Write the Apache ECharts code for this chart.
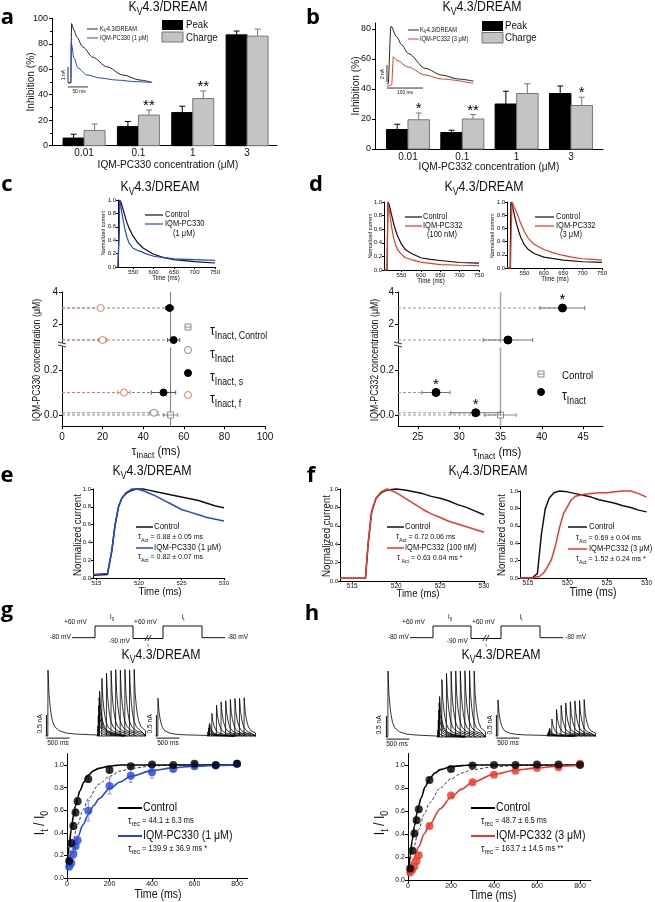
<!DOCTYPE html>
<html><head><meta charset="utf-8">
<script src="https://cdn.jsdelivr.net/npm/echarts@6/dist/echarts.min.js"></script>
<style>html,body{margin:0;padding:0;background:#fff}#c{width:655px;height:902px}</style>
</head><body><div id="c"></div>
<script>
// ================= DATA =================
const concLabels = ['0.01','0.1','1','3'];
// panel a (IQM-PC330)
const aPeak = [6, 15, 26, 87];
const aPeakErr = [3, 4, 5, 3];
const aCharge = [12, 24, 37, 86];
const aChargeErr = [5, 4, 6, 5.5];
const aStars = ['', '**', '**', ''];
// panel b (IQM-PC332)
const bPeak = [13, 11, 30, 37];
const bPeakErr = [3.5, 1.5, 8.5, 5];
const bCharge = [19.5, 20, 37, 29];
const bChargeErr = [4.5, 3, 6.5, 5.5];
const bStars = ['*', '**', '', '*'];
// insets a/b (ms, nA)
const aInsCtrl = [[0,0],[7,0],[9,3.7],[15,3.3],[22,2.86],[37,2.24],[62,1.6],[97,1.0],[137,0.49],[180,0.17],[210,0.02]];
const aInsDrug = [[0,0],[7,0],[8,2.5],[15,1.55],[25,0.92],[47,0.49],[80,0.3],[122,0.17],[170,0.07],[210,0.02]];
const bInsCtrl = [[0,0],[3,0],[11,6.8],[27,5.56],[41,4.6],[59,3.6],[106,1.85],[152,1.06],[198,0.59],[240,0.35]];
const bInsDrug = [[0,-0.3],[13,-0.1],[17.5,3.2],[27,2.8],[59,2.0],[106,1.06],[152,0.59],[240,0.08]];
// panel c inset (ms, normalized)
const cInsCtrl = [[513,0],[515,0.01],[516,0.6],[517,1.0],[520,0.97],[525,0.87],[530,0.76],[535,0.66],[540,0.58],[550,0.46],[560,0.37],[575,0.28],[600,0.19],[625,0.14],[650,0.11],[700,0.08],[750,0.06]];
const cInsDrug = [[513,0],[515,0.01],[516,0.6],[517,1.0],[520,0.9],[525,0.72],[530,0.56],[535,0.44],[540,0.36],[550,0.28],[560,0.25],[570,0.23],[580,0.2],[600,0.16],[625,0.14],[650,0.12],[700,0.11],[750,0.10]];
// panel c scatter: [tau ms, conc µM, err, star]
const cCtrl = [[53.5, 0, 3.5]];
const cTauInact = [[45.3, 0.01, 2]];
const cTauS = [[50, 0.1, 6], [55, 1, 3], [53, 3, 2]];
const cTauF = [[30.5, 0.1, 3], [20, 1, 2], [19, 3, 1.5]];
// panel d insets
const dInsCtrlL = [[505,0],[513,0],[514,0.5],[515,1.0],[518,0.97],[525,0.8],[530,0.68],[535,0.58],[540,0.5],[550,0.38],[560,0.3],[577,0.24],[600,0.18],[625,0.155],[650,0.14],[700,0.11],[750,0.10]];
const dInsDrugL = [[505,0],[513,0],[514,0.5],[515,1.0],[518,0.9],[525,0.62],[530,0.47],[535,0.37],[540,0.3],[550,0.23],[560,0.18],[577,0.15],[600,0.115],[650,0.08],[700,0.07],[750,0.065]];
const dInsCtrlR = [[505,0],[513,0],[514,0.5],[515,1.0],[518,0.96],[525,0.78],[530,0.66],[535,0.56],[540,0.47],[550,0.35],[560,0.28],[575,0.22],[600,0.165],[650,0.12],[700,0.095],[750,0.085]];
const dInsDrugR = [[505,0],[514,0],[516,0.6],[518,1.0],[522,0.97],[530,0.84],[540,0.68],[550,0.55],[560,0.45],[575,0.36],[600,0.28],[625,0.23],[650,0.19],[675,0.16],[700,0.14],[725,0.13],[750,0.12]];
// panel d scatter
const dCtrl = [[35, 0, 1.9]];
const dTau = [[32, 0.01, 3, '*'], [27.2, 0.1, 1.7, '*'], [35.9, 1, 3, ''], [42.5, 3, 2.7, '*']];
// panel e
const eCtrl = [[514.6,0.03],[516.3,0.04],[516.8,0.3],[517.2,0.6],[517.6,0.8],[518,0.9],[518.5,0.95],[519,0.98],[519.7,1.0],[520.5,1.0],[521,0.99],[522,0.97],[523,0.95],[524,0.93],[525,0.91],[526,0.89],[527,0.87],[528,0.84],[529,0.81],[530,0.79]];
const eDrug = [[514.6,0.04],[516.3,0.05],[516.8,0.3],[517.2,0.6],[517.6,0.8],[518,0.9],[518.5,0.96],[519.2,1.0],[519.8,1.0],[520.5,0.98],[521,0.96],[522,0.92],[523,0.87],[524,0.82],[525,0.77],[526,0.74],[527,0.71],[528,0.68],[529,0.66],[530,0.64]];
// panel f
const fCtrlL = [[513.6,0.03],[516.5,0.03],[516.8,0.4],[517.2,0.75],[517.7,0.9],[518.3,0.96],[519,0.99],[520,1.0],[521,0.99],[522,0.97],[523,0.95],[524,0.92],[525,0.9],[526,0.87],[527,0.83],[528,0.8],[529,0.76],[530,0.72]];
const fDrugL = [[513.6,0.03],[516.5,0.03],[516.8,0.4],[517.2,0.75],[517.7,0.9],[518.3,0.97],[519,1.0],[520,0.96],[521,0.9],[522,0.84],[523,0.78],[524,0.73],[525,0.69],[526,0.65],[527,0.62],[528,0.59],[529,0.56],[530,0.53]];
const fCtrlR = [[514,0],[515.5,0],[516.2,0.05],[516.7,0.5],[517.2,0.8],[517.7,0.92],[518.3,0.98],[519,1.0],[520,0.99],[521,0.97],[522,0.95],[523,0.93],[524,0.9],[525,0.88],[526,0.86],[527,0.83],[528,0.81],[529,0.78],[530,0.76]];
const fDrugR = [[514,0],[515.5,0],[516.5,0.02],[517,0.06],[517.5,0.13],[518,0.22],[518.5,0.38],[519,0.58],[519.5,0.74],[520,0.82],[520.5,0.9],[521,0.94],[522,0.96],[523,0.97],[524,0.98],[525,0.98],[526,0.99],[527,1.0],[528,1.0],[529,0.97],[530,0.93]];
// panels g/h recovery
const recTimes = [10,20,30,40,50,100,200,300,400,500,600,700,800];
const gCtrl = [0.15,0.31,0.46,0.58,0.68,0.876,0.955,0.99,1.005,1.0,1.01,1.0,1.01];
const gCtrlErr = [0.02,0.03,0.03,0.03,0.03,0.03,0.02,0.01,0.01,0.01,0.01,0.01,0.01];
const gDrug = [0.10,0.13,0.21,0.28,0.335,0.595,0.815,0.905,0.935,0.965,0.99,0.995,1.01];
const gDrugErr = [0.02,0.03,0.04,0.05,0.04,0.09,0.07,0.06,0.05,0.02,0.02,0.02,0.02];
const hCtrl = [0.10,0.255,0.405,0.52,0.615,0.87,0.965,0.995,1.0,1.0,1.005,1.005,1.0];
const hCtrlErr = [0.02,0.02,0.02,0.02,0.02,0.02,0.02,0.01,0.01,0.01,0.01,0.01,0.01];
const hDrug = [0.065,0.09,0.12,0.165,0.215,0.47,0.735,0.85,0.915,0.95,0.975,0.98,1.01];
const hDrugErr = [0.02,0.02,0.02,0.02,0.02,0.02,0.02,0.02,0.01,0.01,0.01,0.01,0.01];
const gCtrlFit = [[0,0.10],[10,0.28],[20,0.43],[30,0.55],[40,0.64],[50,0.71],[60,0.77],[80,0.85],[100,0.91],[125,0.95],[150,0.97],[200,0.99],[250,1.0],[800,1.0]];
const gDrugFit = [[0,0.08],[25,0.23],[50,0.36],[75,0.47],[100,0.56],[125,0.64],[150,0.70],[200,0.79],[250,0.85],[300,0.90],[400,0.95],[500,0.975],[600,0.99],[700,0.995],[800,1.0]];
const gMidFit = [[0,0.09],[25,0.3],[50,0.47],[75,0.6],[100,0.7],[150,0.83],[200,0.9],[250,0.945],[300,0.97],[400,0.99],[500,1.0],[800,1.0]];
const hCtrlFit = [[0,0.05],[10,0.21],[20,0.35],[30,0.47],[40,0.57],[50,0.65],[60,0.71],[80,0.81],[100,0.88],[125,0.93],[150,0.96],[200,0.985],[250,0.995],[300,1.0],[800,1.0]];
const hDrugFit = [[0,0.04],[25,0.18],[50,0.29],[75,0.40],[100,0.48],[150,0.62],[200,0.72],[250,0.79],[300,0.85],[400,0.92],[500,0.955],[600,0.975],[700,0.99],[800,0.995]];
const hMidFit = [[0,0.05],[25,0.27],[50,0.44],[75,0.57],[100,0.67],[150,0.8],[200,0.88],[250,0.93],[300,0.96],[400,0.985],[500,0.995],[800,1.0]];
// current traces (ms after pulse onset, normalized)
const traceShape = [[0,0],[4,1],[25,0.65],[50,0.45],[75,0.32],[100,0.23],[150,0.14],[250,0.08],[400,0.045],[600,0.03],[900,0.02],[1070,0.015]];
const gI0 = [1.57, 0.9], hI0 = [1.57, 0.86];
// voltage protocol
const protoT = [0,115,115,305,305,455,455,650,650,765];
const protoV = [-80,-80,60,60,-90,-90,60,60,-80,-80];

// ================= SETUP =================
const FONT = '"Liberation Sans", Arial, Helvetica, sans-serif';
const BLUE = '#2446dc', RED = '#e8392a', LRED = '#ee7565', GRAY = '#8a8a8a';
const SX = 0.88;
const chart = echarts.init(document.getElementById('c'), null, {renderer:'canvas', width:655, height:902});
const grids = [], xAxes = [], yAxes = [], series = [], G = [];

function mergeDeep(a, b) {
  const o = Object.assign({}, a);
  for (const k in b) {
    const v = b[k];
    if (v && typeof v === 'object' && !Array.isArray(v) && typeof v !== 'function' && a[k] && typeof a[k] === 'object' && !Array.isArray(a[k])) o[k] = mergeDeep(a[k], v);
    else o[k] = v;
  }
  return o;
}
function ax(o) {
  return mergeDeep({type:'value', splitLine:{show:false},
    axisLine:{show:true, onZero:false, lineStyle:{color:'#000', width:1}},
    axisTick:{show:true, inside:false, length:3, lineStyle:{color:'#000', width:1}},
    axisLabel:{show:true, color:'#111', fontSize:10, fontFamily:FONT, margin:4}}, o);
}
function hid(min, max) { return {type:'value', show:false, min, max, splitLine:{show:false}, axisLine:{onZero:false}}; }
let GI = 0;
function addGrid(l, t, w, h, xa, ya) {
  grids.push({left:l, top:t, width:w, height:h});
  xAxes.push(Object.assign({gridIndex:GI}, xa));
  yAxes.push(Object.assign({gridIndex:GI}, ya));
  return GI++;
}
function line(gi, data, color, o) {
  o = o || {};
  const s = {type:'line', xAxisIndex:gi, yAxisIndex:gi, data, showSymbol:false, symbol:'none', silent:true, z:o.z||2,
    clip:false, lineStyle:{color, width:o.w||1, type:o.dash?[3,2]:'solid'}};
  if (o.smooth) { s.smooth = o.smooth; s.smoothMonotone = 'x'; }
  return s;
}
function T(x, y, text, size, o) {
  o = o || {};
  const el = {type:'text', x, y, z:100, rotation:o.rot||0, scaleX:(o.sx==null?SX:o.sx), silent:true,
    style:{text, fontSize:size, fontFamily:o.family||FONT, fontWeight:o.bold?'bold':'normal', fill:o.color||'#111',
      textAlign:o.align||'left', textVerticalAlign:o.va||'middle'}};
  if (o.rich) el.style.rich = o.rich;
  return el;
}
function R(parts, size, color) {
  color = color || '#111';
  let s = ''; const rich = {};
  parts.forEach((p, i) => {
    const k = 'p' + i; const sub = p[1] === 's'; const fs = p[2] || (sub ? Math.round(size*0.7) : size);
    rich[k] = sub ? {fontSize:fs, fontFamily:FONT, fill:color, color:color, lineHeight:fs, verticalAlign:'bottom'}
                  : {fontSize:fs, fontFamily:FONT, fill:color, color:color, lineHeight:Math.round(size*1.45), verticalAlign:'middle'};
    s += '{' + k + '|' + p[0] + '}';
  });
  return {text:s, rich};
}
function RT(x, y, parts, size, o) { const r = R(parts, size, o && o.color); return T(x, y, r.text, size, Object.assign({}, o||{}, {rich:r.rich})); }
function L(x1, y1, x2, y2, color, w, dash) {
  return {type:'line', z:100, silent:true, shape:{x1, y1, x2, y2}, style:{stroke:color, lineWidth:w||1, lineDash:dash||null}};
}
const kvTitle = [['K','n'],['V','s'],['4.3/DREAM','n']];

function barSeries(gi, vals, errs, stars, side, st) {
  return {type:'custom', xAxisIndex:gi, yAxisIndex:gi, z:2, silent:true,
    data: vals.map((v, i) => [i, v, errs[i]]),
    renderItem(params, api) {
      const i = api.value(0), v = api.value(1), e = api.value(2);
      const b0 = api.coord([i, 0]), b1 = api.coord([i, v]), b2 = api.coord([i, v + e]);
      const w = st.w; const x0 = side < 0 ? b0[0] - w : b0[0]; const cx = x0 + w/2;
      const ch = [
        {type:'rect', shape:{x:x0, y:b1[1], width:w, height:b0[1]-b1[1]}, style:{fill:st.fill, stroke:st.stroke, lineWidth:1}},
        {type:'line', shape:{x1:cx, y1:b1[1], x2:cx, y2:b2[1]}, style:{stroke:st.err, lineWidth:1}},
        {type:'line', shape:{x1:cx-3, y1:b2[1], x2:cx+3, y2:b2[1]}, style:{stroke:st.err, lineWidth:1}}];
      const s = stars && stars[params.dataIndex];
      if (s) ch.push({type:'text', style:{x:cx, y:b2[1]-4, text:s, fontSize:15, fontFamily:FONT, fill:'#000', textAlign:'center', textVerticalAlign:'middle'}});
      return {type:'group', children:ch};
    }};
}
function symbolEl(st, x, y) {
  if (st.sym === 'square') return {type:'group', children:[
    {type:'rect', shape:{x:x-3, y:y-3, width:6, height:6}, style:{fill:'#fff', stroke:st.color, lineWidth:1}},
    {type:'line', shape:{x1:x-3, y1:y, x2:x+3, y2:y}, style:{stroke:st.color, lineWidth:1}}]};
  return {type:'circle', shape:{cx:x, cy:y, r:st.r||3.5}, style:{fill:st.fill, stroke:st.color, lineWidth:1}};
}
function hPts(gi, rows, st) {
  return {type:'custom', xAxisIndex:gi, yAxisIndex:gi, z:st.z||3, silent:true,
    data: rows.map(d => [d[0], d[1], d[2]]),
    renderItem(params, api) {
      const x = api.value(0), y = api.value(1), e = api.value(2);
      const p = api.coord([x, y]), pl = api.coord([x-e, y]), pr = api.coord([x+e, y]), p0 = api.coord([st.from, y]);
      const ch = [];
      if (st.dash) ch.push({type:'line', shape:{x1:p0[0], y1:p[1], x2:p[0], y2:p[1]}, style:{stroke:st.dash, lineWidth:1, lineDash:[3,2]}});
      ch.push({type:'line', shape:{x1:pl[0], y1:p[1], x2:pr[0], y2:p[1]}, style:{stroke:st.err, lineWidth:1}});
      ch.push({type:'line', shape:{x1:pl[0], y1:p[1]-2, x2:pl[0], y2:p[1]+2}, style:{stroke:st.err, lineWidth:1}});
      ch.push({type:'line', shape:{x1:pr[0], y1:p[1]-2, x2:pr[0], y2:p[1]+2}, style:{stroke:st.err, lineWidth:1}});
      ch.push(symbolEl(st, p[0], p[1]));
      const s = rows[params.dataIndex][3];
      if (s) ch.push({type:'text', style:{x:p[0], y:p[1]-8, text:s, fontSize:15, fontFamily:FONT, fill:'#000', textAlign:'center', textVerticalAlign:'middle'}});
      return {type:'group', children:ch};
    }};
}
function vErr(gi, xs, ys, es, color) {
  return {type:'custom', xAxisIndex:gi, yAxisIndex:gi, z:3, silent:true,
    data: xs.map((x, i) => [x, ys[i], es[i]]),
    renderItem(params, api) {
      const x = api.value(0), y = api.value(1), e = api.value(2);
      const a = api.coord([x, y-e]), b = api.coord([x, y+e]);
      return {type:'group', children:[
        {type:'line', shape:{x1:a[0], y1:a[1], x2:b[0], y2:b[1]}, style:{stroke:color, lineWidth:1}},
        {type:'line', shape:{x1:a[0]-2, y1:a[1], x2:a[0]+2, y2:a[1]}, style:{stroke:color, lineWidth:1}},
        {type:'line', shape:{x1:b[0]-2, y1:b[1], x2:b[0]+2, y2:b[1]}, style:{stroke:color, lineWidth:1}}]};
    }};
}
// current-trace sweeps
const P1 = 50, P2OFF = 1120, P2DUR = 560, TEND = 2170;
function sweepSet(I0, ratios) {
  const out = [];
  const first = [[0,0],[P1,0]];
  traceShape.forEach(([t, v]) => { if (t <= P2OFF - P1) first.push([P1+t, I0*v]); });
  first.push([P2OFF, 0], [TEND, 0]);
  out.push(first);
  recTimes.forEach((tr, i) => {
    const s = P2OFF + tr; const seg = [[s, 0]];
    traceShape.forEach(([t, v]) => { if (t <= P2DUR && s + t <= TEND) seg.push([s+t, I0*ratios[i]*v]); });
    seg.push([Math.min(s + P2DUR, TEND), 0]);
    out.push(seg);
  });
  return out;
}
function traceSeries(gi, sweeps) {
  return {type:'custom', xAxisIndex:gi, yAxisIndex:gi, z:2, silent:true,
    data: sweeps.map((s, i) => [i, 0]),
    renderItem(params, api) {
      const s = sweeps[params.dataIndex];
      return {type:'polyline', shape:{points:s.map(pt => api.coord(pt))}, style:{stroke:'#000', fill:null, lineWidth:0.8}};
    }};
}
const smallAx = (min, max, vals, fmt, fs) => ax({min, max, axisTick:{length:2, customValues:vals}, axisLabel:{fontSize:fs||6, margin:2, customValues:vals, formatter:fmt}});
const f1 = v => (+v).toFixed(1);
const f0 = v => String(Math.round(v));
const y01 = [0,0.2,0.4,0.6,0.8,1.0];

// ================= PANEL a =================
const gA = addGrid(52, 18.3, 225, 127.4,
  ax({min:-0.59, max:3.55, axisTick:{show:false}, axisLabel:{customValues:[0,1,2,3], formatter:v => concLabels[Math.round(v)], fontSize:10, margin:3}}),
  ax({min:0, max:100, interval:20, minorTick:{show:true, splitNumber:2, length:2, lineStyle:{color:'#000'}}, axisLabel:{fontSize:9}}));
series.push(barSeries(gA, aPeak, aPeakErr, null, -1, {w:21, fill:'#000', stroke:'#000', err:'#000'}));
series.push(barSeries(gA, aCharge, aChargeErr, aStars, 1, {w:21, fill:'#c4c4c4', stroke:'#777', err:'#777'}));
const gAi = addGrid(68, 22, 84, 64, hid(0, 210), hid(-0.2, 3.8));
series.push(line(gAi, aInsCtrl, '#222', {smooth:0.3}));
series.push(line(gAi, aInsDrug, BLUE, {smooth:0.3}));
series.push(line(gAi, [[0,0],[0,1]], '#333'));
series.push(line(gAi, [[0,-0.26],[50,-0.26]], '#333'));

// ================= PANEL b =================
const gB = addGrid(375, 23, 228, 126,
  ax({min:-0.607, max:3.59, axisTick:{show:false}, axisLabel:{customValues:[0,1,2,3], formatter:v => concLabels[Math.round(v)], fontSize:10, margin:3}}),
  ax({min:0, max:84, axisTick:{customValues:[0,20,40,60,80]}, axisLabel:{customValues:[0,20,40,60,80], formatter:f0, fontSize:9}}));
series.push(barSeries(gB, bPeak, bPeakErr, null, -1, {w:21.5, fill:'#000', stroke:'#000', err:'#000'}));
series.push(barSeries(gB, bCharge, bChargeErr, bStars, 1, {w:21.5, fill:'#c4c4c4', stroke:'#777', err:'#777'}));
const gBi = addGrid(387, 22, 90, 68, hid(0, 250), hid(-0.7, 7.3));
series.push(line(gBi, bInsCtrl, '#222', {smooth:0.3}));
series.push(line(gBi, bInsDrug, RED, {smooth:0.3}));
series.push(line(gBi, [[0,0.24],[0,2.24]], '#333'));
series.push(line(gBi, [[0,-0.47],[100,-0.47]], '#333'));

// ================= PANEL c =================
const gCi = addGrid(118, 200, 97, 67, smallAx(513, 750, [550,600,650,700,750], f0), smallAx(0, 1, y01, f1));
series.push(line(gCi, cInsCtrl, '#111', {w:1.2}));
series.push(line(gCi, cInsDrug, BLUE, {w:1.2}));
const cUp = addGrid(62, 292, 203, 50.4, hid(0, 100),
  ax({min:0.85, max:4, axisTick:{customValues:[2,4]}, axisLabel:{customValues:[2,4], formatter:f0, fontSize:10}}));
const cLo = addGrid(62, 347.5, 203, 78.75,
  ax({min:0, max:100, interval:20, axisLabel:{fontSize:10, margin:6}}),
  ax({min:-0.05, max:0.3, axisTick:{customValues:[0,0.2]}, axisLabel:{customValues:[0,0.2], formatter:f1, fontSize:10}}));
[[cUp, 0.85, 4], [cLo, -0.05, 0.3]].forEach(([g, a, b]) => series.push(line(g, [[cCtrl[0][0], a], [cCtrl[0][0], b]], '#777', {z:1})));
function splitRows(rows) { return [rows.filter(r => r[1] >= 0.5), rows.filter(r => r[1] < 0.5)]; }
const stCtrl = {sym:'square', color:GRAY, err:GRAY, dash:GRAY, from:0};
const stTI = {sym:'circle', color:GRAY, fill:'#fff', err:GRAY, dash:GRAY, from:0};
const stS = {sym:'circle', color:'#000', fill:'#000', err:'#555', dash:GRAY, from:0};
const stF = {sym:'circle', color:LRED, fill:'#fff', err:LRED, dash:LRED, from:0, z:4};
[[cCtrl, stCtrl], [cTauInact, stTI], [cTauS, stS], [cTauF, stF]].forEach(([rows, st]) => {
  const [up, lo] = splitRows(rows);
  if (up.length) series.push(hPts(cUp, up, st));
  if (lo.length) series.push(hPts(cLo, lo, st));
});

// ================= PANEL d =================
const gDl = addGrid(384, 202, 95, 68, smallAx(505, 750, [550,600,650,700,750], f0), smallAx(0, 1, y01, f1));
series.push(line(gDl, dInsCtrlL, '#111', {w:1.2}));
series.push(line(gDl, dInsDrugL, RED, {w:1.2}));
const gDr = addGrid(507, 202, 95, 66, smallAx(505, 750, [550,600,650,700,750], f0), smallAx(0, 1, y01, f1));
series.push(line(gDr, dInsCtrlR, '#111', {w:1.2}));
series.push(line(gDr, dInsDrugR, RED, {w:1.2}));
const dUp = addGrid(398, 292, 205, 50.4, hid(22.6, 47.4),
  ax({min:0.85, max:4, axisTick:{customValues:[2,4]}, axisLabel:{customValues:[2,4], formatter:f0, fontSize:10}}));
const dLo = addGrid(398, 347.5, 205, 78.75,
  ax({min:22.6, max:47.4, axisTick:{customValues:[25,30,35,40,45]}, axisLabel:{customValues:[25,30,35,40,45], formatter:f0, fontSize:10, margin:6}}),
  ax({min:-0.05, max:0.3, axisTick:{customValues:[0,0.2]}, axisLabel:{customValues:[0,0.2], formatter:f1, fontSize:10}}));
[[dUp, 0.85, 4], [dLo, -0.05, 0.3]].forEach(([g, a, b]) => series.push(line(g, [[dCtrl[0][0], a], [dCtrl[0][0], b]], '#aaa', {z:1, w:1.5})));
const dstCtrl = {sym:'square', color:GRAY, err:GRAY, dash:'#999', from:22.6};
const dstT = {sym:'circle', color:'#000', fill:'#000', err:'#777', dash:'#999', from:22.6, r:4};
[[dCtrl, dstCtrl], [dTau, dstT]].forEach(([rows, st]) => {
  const [up, lo] = splitRows(rows);
  if (up.length) series.push(hPts(dUp, up, st));
  if (lo.length) series.push(hPts(dLo, lo, st));
});

// ================= PANEL e / f =================
const gE = addGrid(93, 489, 131, 89, smallAx(514.6, 530, [515,520,525,530], f0), smallAx(0, 1, y01, f1));
series.push(line(gE, eCtrl, '#111', {w:1.5}));
series.push(line(gE, eDrug, BLUE, {w:1.5}));
const gFl = addGrid(340, 489, 144, 92, smallAx(513.6, 530, [515,520,525,530], f0, 6.5), smallAx(0, 1, y01, f1, 6));
series.push(line(gFl, fCtrlL, '#111', {w:1.5}));
series.push(line(gFl, fDrugL, RED, {w:1.5}));
const gFr = addGrid(520, 491, 128, 87, smallAx(514, 530, [515,520,525,530], f0, 6.5), smallAx(0, 1, y01, f1, 6));
series.push(line(gFr, fCtrlR, '#111', {w:1.5}));
series.push(line(gFr, fDrugR, RED, {w:1.5}));

// ================= PANEL g / h =================
const proto = protoT.map((t, i) => [t, protoV[i]]);
const gP = addGrid(72, 626, 153, 12.5, hid(0, 765), hid(-90, 60));
series.push(line(gP, proto, '#111'));
const hP = addGrid(410, 626, 153, 12.5, hid(0, 765), hid(-90, 60));
series.push(line(hP, proto, '#111'));
const traceBoxes = [[45.5, 666.7, gI0[0], gCtrl], [155.5, 666.7, gI0[1], gDrug], [385.5, 667.7, hI0[0], hCtrl], [495.5, 666.7, hI0[1], hDrug]];
traceBoxes.forEach(([l, t, I0, ratios]) => {
  const gi = addGrid(l, t, 100, 71.4, hid(0, TEND), hid(-0.05, 1.65));
  series.push(traceSeries(gi, sweepSet(I0, ratios)));
  series.push(line(gi, [[20,0],[20,0.5]], '#111'));
  series.push(line(gi, [[20,-0.05],[520,-0.05]], '#111'));
});
const recAx = (fs) => ax({min:0, max:850, axisTick:{length:3, customValues:[0,200,400,600,800]}, axisLabel:{customValues:[0,200,400,600,800], formatter:f0, fontSize:fs, margin:3}});
const recAy = (fs) => ax({min:0, max:1.1, axisTick:{length:3, customValues:y01}, axisLabel:{customValues:y01, formatter:f1, fontSize:fs, margin:3}});
const gR = addGrid(67, 753.7, 180.6, 124.3, recAx(7), recAy(7));
const hR = addGrid(408, 753.5, 182.75, 126.5, recAx(7), recAy(7));
[[gR, gCtrl, gCtrlErr, gDrug, gDrugErr, gCtrlFit, gDrugFit, gMidFit, BLUE, '#7d95ea'],
 [hR, hCtrl, hCtrlErr, hDrug, hDrugErr, hCtrlFit, hDrugFit, hMidFit, RED, '#f08b80']].forEach(([gi, c, ce, d, de, cf, df, mf, col, ecol]) => {
  series.push(line(gi, mf, '#222', {dash:true, smooth:0.3, w:0.9}));
  series.push(line(gi, cf, '#000', {smooth:0.3, w:1.6}));
  series.push(line(gi, df, col, {smooth:0.3, w:1.6}));
  series.push(vErr(gi, recTimes, d, de, ecol));
  series.push(vErr(gi, recTimes, c, ce, '#666'));
  series.push({type:'scatter', xAxisIndex:gi, yAxisIndex:gi, z:4, silent:true, symbolSize:8, itemStyle:{color:col}, data:recTimes.map((t, i) => [t, d[i]])});
  series.push({type:'scatter', xAxisIndex:gi, yAxisIndex:gi, z:5, silent:true, symbolSize:8, itemStyle:{color:'#000'}, data:recTimes.map((t, i) => [t, c[i]])});
});

// ================= TEXT / ANNOTATION =================
const LF = '"Open Sans", "DejaVu Sans", sans-serif';
[['a',7.5,17.3],['b',313,17.3],['c',7,185],['d',316,185],['e',7,475.5],['f',311,475.5],['g',7,611],['h',312,614]].forEach(([t,x,y]) => G.push(T(x, y, t, 22, {bold:true, family:LF, align:'center', sx:1, color:'#000'})));
[[168,7],[482,7],[160,187],[484,187],[152,471],[488,471],[161,655],[501,655]].forEach(([x,y]) => G.push(RT(x, y, kvTitle, 14, {align:'center'})));
// a
G.push(T(168, 165, 'IQM-PC330 concentration (μM)', 11.5, {align:'center'}));
G.push(T(31, 82, 'Inhibition (%)', 11.5, {align:'center', rot:Math.PI/2}));
G.push({type:'rect', z:100, shape:{x:162, y:20, width:21, height:10}, style:{fill:'#000'}});
G.push({type:'rect', z:100, shape:{x:162, y:32, width:21, height:10}, style:{fill:'#c4c4c4', stroke:'#777'}});
G.push(T(186, 25, 'Peak', 11)); G.push(T(186, 37.5, 'Charge', 11));
G.push(L(87, 29, 98, 29, '#222')); G.push(RT(100, 29, kvTitle, 6.5));
G.push(L(87, 38, 98, 38, BLUE)); G.push(T(100, 38, 'IQM-PC330 (1 μM)', 6.5));
G.push(T(63, 75, '1 nA', 5.5, {align:'center', rot:Math.PI/2})); G.push(T(79, 91, '50 ms', 5.5, {align:'center'}));
// b
G.push(T(489, 167, 'IQM-PC332 concentration (μM)', 11.5, {align:'center'}));
G.push(T(356, 86, 'Inhibition (%)', 11.5, {align:'center', rot:Math.PI/2}));
G.push({type:'rect', z:100, shape:{x:482, y:21, width:21, height:10}, style:{fill:'#000'}});
G.push({type:'rect', z:100, shape:{x:482, y:32.5, width:21, height:10.5}, style:{fill:'#c4c4c4', stroke:'#777'}});
G.push(T(505, 26, 'Peak', 11)); G.push(T(505, 38, 'Charge', 11));
G.push(L(408, 30, 419, 30, '#222')); G.push(RT(420, 30, kvTitle, 6.5));
G.push(L(408, 39, 419, 39, RED)); G.push(T(420, 39, 'IQM-PC332 (3 μM)', 6.5));
G.push(T(382, 74, '2 nA', 5.5, {align:'center', rot:Math.PI/2})); G.push(T(405, 92, '100 ms', 5.5, {align:'center'}));
// c
G.push(T(103, 233, 'Normalized current', 6, {align:'center', rot:Math.PI/2}));
G.push(T(166, 278, 'Time (ms)', 7, {align:'center'}));
G.push(L(145, 215, 163, 215, '#111', 1.2)); G.push(T(165, 215, 'Control', 8.5));
G.push(L(145, 224, 163, 224, BLUE, 1.2)); G.push(T(165, 224, 'IQM-PC330', 8.5)); G.push(T(184, 234, '(1 μM)', 8.5, {align:'center'}));
G.push(T(37, 360, 'IQM-PC330 concentration (μM)', 10, {align:'center', rot:Math.PI/2}));
G.push(RT(156, 451, [['τ','n',13],['Inact','s',9.5],[' (ms)','n',13]], 13, {align:'center'}));
G.push(L(58, 342, 66, 344, '#333')); G.push(L(58, 345, 66, 347, '#333'));
{ const lx = 188, tx = 210;
  const sq = (x, y, c) => [{type:'rect', z:100, shape:{x:x-3, y:y-3, width:6, height:6}, style:{fill:'#fff', stroke:c}}, L(x-3, y, x+3, y, c)];
  sq(lx, 327, GRAY).forEach(e => G.push(e));
  G.push({type:'circle', z:100, shape:{cx:lx, cy:350, r:3.5}, style:{fill:'#fff', stroke:GRAY}});
  G.push({type:'circle', z:100, shape:{cx:lx, cy:373, r:3.5}, style:{fill:'#000', stroke:'#000'}});
  G.push({type:'circle', z:100, shape:{cx:lx, cy:395, r:3.5}, style:{fill:'#fff', stroke:LRED}});
  [['Inact, Control',331],['Inact',354],['Inact, s',377],['Inact, f',399]].forEach(([s, y]) => G.push(RT(tx, y, [['τ','n',14],[s,'s',10]], 14)));
  // d legend
  sq(541, 374, GRAY).forEach(e => G.push(e));
  G.push(T(562, 376, 'Control', 11));
  G.push({type:'circle', z:100, shape:{cx:541, cy:392, r:3.5}, style:{fill:'#000', stroke:'#000'}});
  G.push(RT(562, 396, [['τ','n',14],['Inact','s',10]], 14));
}
// d
G.push(T(370, 236, 'Normalized current', 6, {align:'center', rot:Math.PI/2}));
G.push(T(492, 236, 'Normalized current', 6, {align:'center', rot:Math.PI/2}));
G.push(T(431, 281, 'Time (ms)', 7, {align:'center'}));
G.push(T(555, 279, 'Time (ms)', 7, {align:'center'}));
G.push(L(405, 217, 422, 217, '#111', 1.2)); G.push(T(423, 217, 'Control', 8.5));
G.push(L(405, 226, 422, 226, RED, 1.2)); G.push(T(423, 226, 'IQM-PC332', 8.5)); G.push(T(442, 235, '(100 nM)', 8.5, {align:'center'}));
G.push(L(535, 217, 554, 217, '#111', 1.2)); G.push(T(556, 217, 'Control', 8.5));
G.push(L(535, 226, 554, 226, RED, 1.2)); G.push(T(556, 226, 'IQM-PC332', 8.5)); G.push(T(571, 235, '(3 μM)', 8.5, {align:'center'}));
G.push(T(375, 360, 'IQM-PC332 concentration (μM)', 10, {align:'center', rot:Math.PI/2}));
G.push(RT(497, 452, [['τ','n',13],['Inact','s',9.5],[' (ms)','n',13]], 13, {align:'center'}));
G.push(L(394, 342, 402, 344, '#333')); G.push(L(394, 345, 402, 347, '#333'));
// e
G.push(T(78, 535, 'Normalized current', 11, {align:'center', rot:Math.PI/2}));
G.push(T(160, 592, 'Time (ms)', 11, {align:'center'}));
G.push(L(136, 527, 153, 527, '#111', 1.5)); G.push(T(154, 527, 'Control', 9));
G.push(RT(138, 537, [['τ','n',8.5],['Act','s',6],[' = 0.88 ± 0.05 ms','n',8]], 8));
G.push(L(136, 548, 153, 548, BLUE, 1.5)); G.push(T(154, 548, 'IQM-PC330 (1 μM)', 9));
G.push(RT(138, 557, [['τ','n',8.5],['Act','s',6],[' = 0.82 ± 0.07 ms','n',8]], 8));
// f
G.push(T(327, 536, 'Normalized current', 11, {align:'center', rot:Math.PI/2}));
G.push(T(502, 535, 'Normalized current', 11, {align:'center', rot:Math.PI/2}));
G.push(T(418, 594, 'Time (ms)', 11, {align:'center'}));
G.push(T(593, 593, 'Time (ms)', 12, {align:'center'}));
G.push(L(387, 527, 404, 527, '#111', 1.5)); G.push(T(405, 527, 'Control', 9));
G.push(RT(396, 537, [['τ','n',8.5],['Act','s',6],[' = 0.72 0.06 ms','n',8]], 8));
G.push(L(387, 548, 404, 548, RED, 1.5)); G.push(T(405, 548, 'IQM-PC332 (100 nM)', 8.5));
G.push(RT(397, 558, [['τ','n',8.5],[' Act','s',6],[' = 0.63 0.04 ms *','n',8]], 8));
G.push(L(568, 527, 587, 527, '#111', 1.5)); G.push(T(589, 527, 'Control', 9));
G.push(RT(576, 538, [['τ','n',8.5],['Act','s',6],[' = 0.69 ± 0.04 ms','n',8]], 8));
G.push(L(568, 549, 587, 549, RED, 1.5)); G.push(T(589, 549, 'IQM-PC332 (3 μM)', 8.5));
G.push(RT(576, 559, [['τ','n',8.5],['Act','s',6],[' = 1.52 ± 0.24 ms *','n',8]], 8));
// g / h protocols
[[0, 0], [338, 0]].forEach(([dx]) => {
  G.push(T(87+dx, 622, '+60 mV', 7.5, {align:'right'}));
  G.push(RT(112+dx, 617, [['I','n'],['0','s']], 7, {align:'center'}));
  G.push(T(157+dx, 622, '+60 mV', 7.5, {align:'right'}));
  G.push(RT(183+dx, 617, [['I','n'],['t','s']], 7, {align:'center'}));
  G.push(T(71+dx, 637, '-80 mV', 7.5, {align:'right'}));
  G.push(T(130+dx, 641, '-90 mV', 7.5, {align:'right'}));
  G.push(T(227+dx, 637, '-80 mV', 7.5, {align:'left'}));
  G.push(L(145+dx, 641, 148+dx, 635, '#333')); G.push(L(148+dx, 641, 151+dx, 635, '#333'));
  G.push(T(148+dx, 646, 't', 5, {align:'center'}));
});
[[40, 724], [150, 724], [379, 725], [490, 725]].forEach(([x, y]) => G.push(T(x, y, '0.5 nA', 7.5, {align:'center', rot:Math.PI/2})));
[[58, 743], [168, 743], [397, 744], [508, 743]].forEach(([x, y]) => G.push(T(x, y, '500 ms', 7.5, {align:'center'})));
// g / h recovery labels
[[0, BLUE, 'IQM-PC330 (1 μM)', '44.1 ± 6.3 ms', '139.9 ± 36.9 ms *', 158, 40, 895],
 [353, RED, 'IQM-PC332 (3 μM)', '48.7 ± 6.5 ms', '163.7 ± 14.5 ms **', 493, 380, 896]].forEach(([dx, col, nm, t1, t2, tx, yx, ty]) => {
  G.push(L(118+dx, 808, 142+dx, 808, '#000', 2)); G.push(T(143+dx, 808, 'Control', 12));
  G.push(RT(128+dx, 821, [['τ','n',10],['rec','s',7],[' = ' + t1,'n',8.5]], 9));
  G.push(L(118+dx, 836, 142+dx, 836, col, 2)); G.push(T(143+dx, 836, nm, 12));
  G.push(RT(128+dx, 849, [['τ','n',10],['rec','s',7],[' = ' + t2,'n',8.5]], 9));
  G.push(T(tx, ty, 'Time (ms)', 12, {align:'center'}));
  G.push(RT(yx, 823, [['I','n'],['t','s'],[' / I','n'],['0','s']], 14, {align:'center', rot:Math.PI/2}));
});

chart.setOption({animation:false, backgroundColor:'#fff', grid:grids, xAxis:xAxes, yAxis:yAxes, series, graphic:G});
</script></body></html>
